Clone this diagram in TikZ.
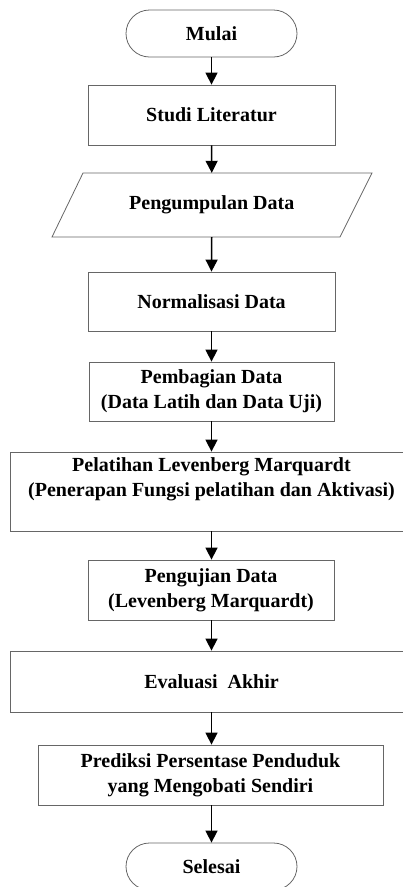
\documentclass[tikz,border=0pt]{standalone}
\usepackage{fontspec}
\setmainfont{Liberation Serif}
\usetikzlibrary{arrows.meta}
\begin{document}
\begin{tikzpicture}[x=1pt,y=-1pt,
  boxline/.style={draw=black!60, line width=0.8pt},
  proc/.style={boxline, rectangle, inner sep=0pt, align=center},
  term/.style={boxline, rectangle, rounded corners=23.5pt, inner sep=0pt,
    minimum width=171pt, minimum height=47pt},
  txt/.style={font=\fontsize{20}{25}\selectfont\bfseries},
  flow/.style={line width=1.5pt, -{Triangle[width=12pt,length=12pt]}}]
\useasboundingbox (0,0) rectangle (402,887);

\node[term, txt] (mulai) at (211.5,33.5) {Mulai};
\node[proc, txt, minimum width=247pt, minimum height=60pt] (studi) at (211.5,115) {Studi Literatur};
\node[txt, inner sep=0pt, minimum width=257pt, minimum height=64pt] (pd) at (211.75,205) {Pengumpulan Data};
\draw[boxline] (83,173) -- (372,173) -- (340,237) -- (52,237) -- cycle;
\node[proc, txt, minimum width=247pt, minimum height=59pt] (norm) at (211.5,301.5) {Normalisasi Data};
\node[proc, txt, minimum width=245pt, minimum height=59pt] (bagi) at (211.5,391.5) {Pembagian Data\\(Data Latih dan Data Uji)};
\node[proc, minimum width=403pt, minimum height=79pt] (latih) at (211.5,491.5) {};
\node[txt, align=center, inner sep=0pt] (latihtxt) at (211.5,479.5) {Pelatihan Levenberg Marquardt\\(Penerapan Fungsi pelatihan dan Aktivasi)};
\node[proc, txt, minimum width=246pt, minimum height=60pt] (uji) at (211,590) {Pengujian Data\\(Levenberg Marquardt)};
\node[proc, txt, minimum width=403pt, minimum height=61pt] (eval) at (211.5,681.5) {Evaluasi~ Akhir};
\node[proc, txt, minimum width=345pt, minimum height=60pt] (pred) at (210.5,775) {Prediksi Persentase Penduduk\\yang Mengobati Sendiri};
\node[term, txt] (selesai) at (211.5,866.5) {Selesai};

\draw[flow] (mulai.south) -- (studi.north);
\draw[flow] (studi.south) -- (pd.north);
\draw[flow] (pd.south) -- (norm.north);
\draw[flow] (norm.south) -- (bagi.north);
\draw[flow] (bagi.south) -- (latih.north);
\draw[flow] (latih.south) -- (uji.north -| latih.south);
\draw[flow] (uji.south -| latih.south) -- (eval.north);
\draw[flow] (eval.south) -- (pred.north -| eval.south);
\draw[flow] (pred.south -| eval.south) -- (selesai.north);
\end{tikzpicture}
\end{document}
